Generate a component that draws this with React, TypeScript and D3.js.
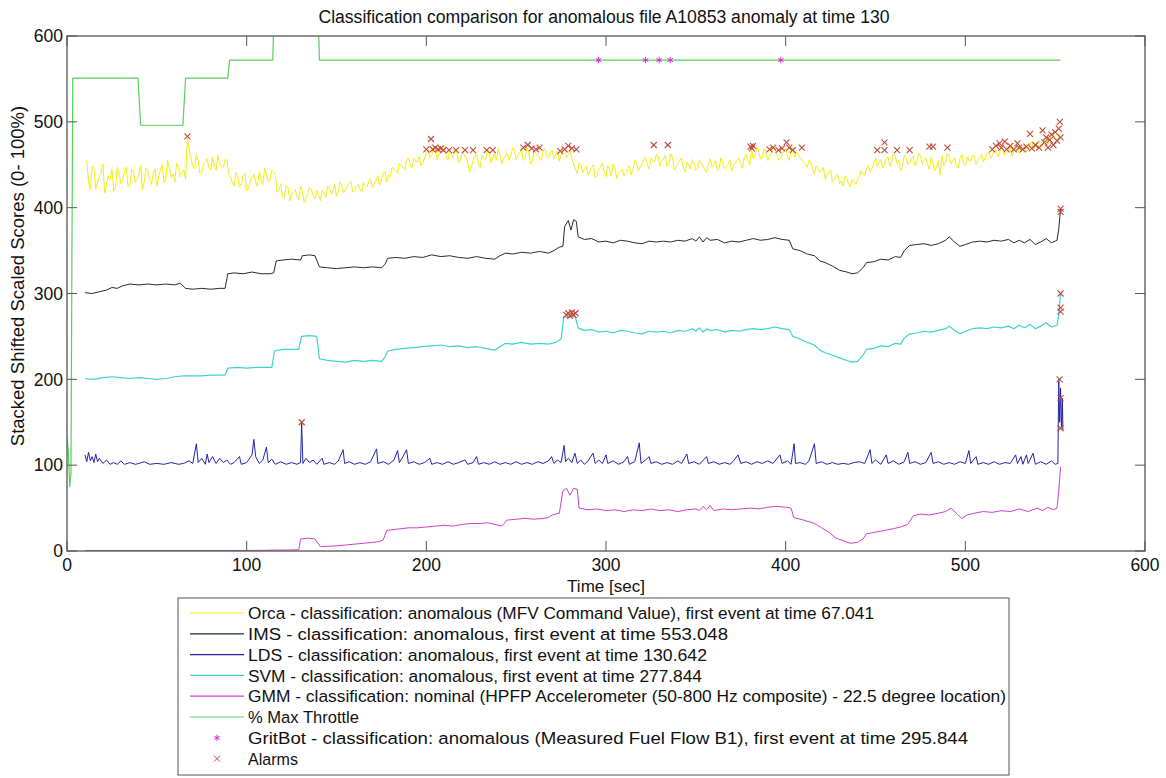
import React from "react";
import * as d3 from "d3";

const W = 1166;
const H = 778;
const frame = { left: 67, right: 1145, top: 36, bottom: 551 };

const xTicks = [0, 100, 200, 300, 400, 500, 600];
const yTicks = [0, 100, 200, 300, 400, 500, 600];

const titleText = "Classification comparison for anomalous file A10853 anomaly at time 130";
const xLabel = "Time [sec]";
const yLabel = "Stacked Shifted Scaled Scores (0- 100%)";

// Orca score at odd seconds, t = 11, 13, ..., 553
const orcaOddSeconds = [
  456, 421, 446, 429, 440, 417, 437, 445, 424, 439,
  431, 447, 426, 441, 434, 449, 430, 443, 427, 445,
  437, 450, 433, 446, 439, 452, 436, 444, 481,
  458, 445, 455, 441, 453, 446, 459, 443, 452, 447, 456,
  436, 425, 438, 428, 440, 422, 435, 430, 442, 427,
  439, 433, 441, 418, 428, 412, 424, 416, 421, 409,
  419, 411, 423, 414, 420, 408, 418, 425, 416, 427,
  419, 426, 421, 428, 418, 425, 422, 429, 424, 433,
  428, 437, 433, 442, 438, 447, 443, 452, 447, 455,
  450, 457, 453, 449, 458, 467, 461, 470, 463, 468,
  460, 467, 458, 464, 456, 462, 453, 447, 459, 452,
  461, 456, 465, 459, 455, 462, 457, 464, 460, 467,
  461, 468, 459, 465, 454, 463, 458, 466, 460, 464,
  457, 466, 461, 468, 462, 457, 445, 452, 441, 448,
  443, 450, 438, 447, 442, 449, 437, 446, 440, 445,
  441, 449, 444, 452, 447, 456, 450, 458, 453, 460,
  454, 461, 452, 458, 449, 455, 447, 453, 445, 451,
  446, 452, 444, 450, 447, 455, 446, 452, 448, 455,
  449, 456, 452, 459, 455, 468, 461, 466, 458, 465,
  460, 468, 462, 457, 466, 460, 467, 459, 462, 456,
  450, 455, 446, 449, 441, 447, 438, 443, 434, 439,
  431, 437, 428, 433, 427, 436, 440, 446, 442, 452,
  448, 456, 451, 459, 453, 460, 455, 448, 458, 452,
  460, 454, 461, 456, 450, 459, 443, 455, 460, 453,
  461, 455, 449, 457, 452, 459, 454, 460, 456, 462,
  458, 465, 461, 468, 463, 470, 464, 471, 466, 473,
  467, 474, 469, 477, 471, 479, 473, 482, 476, 484,
  478, 486,
];

// Orca score at even seconds, t = 12, 14, ..., 552
const orcaEvenSeconds = [
  430, 448, 422, 436, 451, 426, 433, 419, 447, 428,
  442, 424, 445, 429, 438, 421, 446, 433, 440, 425,
  443, 429, 455, 435, 430, 448, 441, 433, 467, 448,
  462, 440, 451, 457, 444, 450, 461, 448, 455, 440,
  429, 441, 424, 436, 420, 431, 439, 425, 433, 446,
  430, 444, 437, 421, 413, 426, 408, 419, 413, 425,
  406, 417, 422, 410, 415, 420, 412, 424, 418, 413,
  430, 417, 424, 431, 420, 427, 418, 426, 431, 423,
  432, 426, 440, 430, 436, 445, 440, 449, 444, 458,
  446, 455, 460, 452, 463, 458, 472, 456, 465, 471,
  455, 462, 468, 452, 466, 458, 441, 455, 463, 447,
  457, 468, 452, 463, 469, 451, 461, 455, 470, 456,
  464, 455, 470, 451, 467, 462, 455, 469, 458, 467,
  462, 454, 470, 458, 466, 451, 440, 449, 446, 438,
  447, 435, 445, 452, 436, 444, 451, 434, 443, 437,
  446, 438, 455, 443, 451, 459, 445, 455, 462, 449,
  457, 448, 463, 444, 452, 458, 441, 449, 456, 443,
  455, 449, 441, 457, 450, 443, 458, 445, 451, 443,
  452, 458, 446, 462, 450, 457, 470, 457, 469, 455,
  463, 471, 455, 461, 469, 455, 470, 465, 458, 453,
  447, 452, 439, 446, 444, 433, 441, 430, 436, 428,
  425, 434, 424, 430, 433, 443, 437, 449, 445, 458,
  452, 446, 457, 448, 463, 451, 443, 461, 450, 457,
  449, 463, 451, 458, 444, 452, 447, 438, 449, 463,
  451, 458, 446, 462, 449, 455, 461, 450, 458, 453,
  463, 457, 466, 459, 472, 461, 467, 460, 469, 463,
  470, 465, 474, 468, 476, 470, 480, 474, 487, 480,
  483,
];

// IMS score as [time, value]
const imsSeries: [number, number][] = [
  [10, 301], [14, 300], [18, 302], [22, 304], [25, 307], [28, 306], [31, 309], [35, 311], [40, 310], [45, 311],
  [50, 310], [55, 311], [60, 310], [63, 312], [66, 306], [70, 305], [75, 306], [80, 305], [85, 306], [88, 306],
  [89.5, 323], [93, 324], [98, 323], [103, 325], [108, 323], [113, 323], [115, 324], [116.5, 338], [120, 339], [125, 340],
  [130, 339], [131, 344], [135, 345], [138, 344], [140.5, 331], [145, 330], [150, 329], [155, 330], [160, 331], [165, 330],
  [170, 331], [175, 330], [177, 334], [178.5, 341], [183, 342], [188, 341], [193, 343], [198, 342], [203, 345], [208, 343],
  [213, 344], [218, 342], [223, 341], [228, 343], [233, 341], [238, 340], [241, 344], [244, 347], [248, 346], [253, 348],
  [258, 347], [263, 349], [268, 347], [271, 350], [274, 354], [276, 355], [277, 378], [279, 385], [280.5, 374], [282, 386],
  [283.5, 384], [284.5, 366], [288, 363], [292, 364], [296, 360], [300, 361], [304, 359], [308, 362], [312, 361], [316, 359],
  [320, 358], [324, 361], [328, 360], [332, 361], [336, 360], [340, 362], [344, 361], [348, 364], [350, 361], [352, 366],
  [354, 360], [356, 365], [358, 362], [362, 363], [366, 359], [370, 361], [374, 360], [378, 362], [382, 364], [386, 362],
  [390, 363], [394, 365], [398, 363], [402, 362], [404, 352], [408, 350], [412, 346], [416, 344], [419, 338], [422, 336],
  [426, 332], [430, 327], [434, 325], [437, 323], [440, 324], [443, 330], [445, 336], [449, 337], [453, 340], [457, 339],
  [461, 343], [464, 342], [466, 350], [469, 356], [473, 357], [477, 358], [481, 356], [485, 358], [489, 362], [491, 366],
  [494, 360], [497, 355], [500, 357], [504, 360], [508, 361], [512, 360], [516, 362], [520, 361], [524, 363], [527, 359],
  [530, 362], [533, 359], [536, 363], [539, 357], [542, 360], [545, 364], [548, 359], [551, 362], [552, 375], [553, 399],
];

// LDS score as [time, value]
const ldsSeries: [number, number][] = [
  [10, 112], [11, 104], [12, 115], [13, 105], [14, 110], [15, 103], [16, 113], [17, 104], [18, 108], [20, 102],
  [22, 106], [24, 101], [26, 103], [28, 101], [30, 105], [32, 101], [35, 103], [38, 101], [40, 102], [43, 104],
  [46, 101], [50, 102], [54, 101], [58, 103], [62, 101], [65, 102], [68, 105], [70, 102], [72, 125], [73, 103],
  [75, 108], [77, 101], [78, 113], [79, 103], [81, 110], [83, 102], [85, 108], [87, 103], [89, 106], [91, 101],
  [93, 103], [96, 110], [97, 101], [100, 103], [103, 112], [104, 130], [105, 110], [107, 102], [109, 106], [111, 121],
  [112, 103], [114, 107], [116, 101], [119, 104], [122, 101], [125, 103], [128, 101], [130, 103], [130.6, 149], [131.3, 102],
  [133, 108], [135, 103], [137, 106], [139, 101], [142, 108], [143, 101], [146, 103], [149, 101], [151, 105], [153.7, 118],
  [154.5, 102], [157, 104], [160, 101], [163, 103], [166, 101], [169, 104], [172.3, 119], [173, 102], [176, 104], [179, 101],
  [182, 106], [184, 117], [185, 103], [187, 110], [189, 118], [190, 102], [193, 104], [196, 101], [199, 103], [202, 108],
  [203, 101], [206, 103], [209, 101], [212, 104], [215, 101], [218, 103], [221.5, 106], [223, 101], [226, 103], [228, 110],
  [229, 101], [232, 103], [235, 101], [238, 104], [241, 101], [244, 103], [247, 101], [250, 104], [253, 101], [256, 103],
  [259, 101], [262, 104], [265, 102], [268, 105], [269.7, 110], [271, 102], [273, 106], [275, 103], [276.7, 123], [277.5, 104],
  [279, 108], [281, 103], [282.7, 114], [284, 102], [286, 106], [288, 101], [290, 105], [292.8, 114], [294, 102], [296, 106],
  [298, 102], [300, 112], [301, 102], [304, 105], [307, 101], [310, 104], [312, 110], [313, 101], [316, 104], [318.5, 126],
  [319.5, 102], [322, 106], [324, 110], [325, 102], [328, 104], [331, 101], [334, 103], [337, 101], [340, 105], [342, 102],
  [345, 113], [346, 102], [349, 104], [352, 101], [356, 110], [357, 102], [360, 104], [363, 101], [366, 103], [369, 101],
  [371, 105], [373.5, 112], [375, 102], [378, 104], [381, 101], [384, 104], [387, 102], [390, 105], [393, 102], [396.8, 112],
  [398, 102], [401, 105], [403, 101], [404.7, 125], [405.5, 102], [408, 103], [411, 101], [413, 105], [416, 125], [417, 102],
  [420, 104], [423, 101], [426, 103], [429, 101], [432, 102], [435, 101], [438, 103], [441, 104], [444, 102], [447, 118],
  [448, 102], [450, 106], [453, 101], [456, 112], [457, 102], [460, 105], [463, 101], [466, 104], [468, 115], [469, 102],
  [472, 104], [475, 101], [478, 103], [481, 115], [482, 102], [485, 104], [488, 101], [491, 103], [494, 101], [497, 104],
  [500, 102], [502, 117], [503, 102], [506, 110], [507, 101], [510, 103], [513, 101], [516, 104], [519, 101], [522, 103],
  [525, 102], [528, 112], [529, 102], [531, 110], [532, 101], [534, 112], [535, 102], [537.7, 114], [539, 101], [542, 104],
  [545, 101], [548, 105], [550, 101], [551.5, 102], [552, 200], [552.5, 150], [553, 190], [553.5, 143], [554, 178], [554.3, 141],
];

// SVM score as [time, value]
const svmSeries: [number, number][] = [
  [10, 201], [15, 200], [20, 202], [25, 203], [30, 202], [35, 201], [40, 202], [45, 201], [50, 200], [55, 201],
  [60, 203], [65, 204], [70, 204], [75, 204], [80, 205], [85, 205], [88, 205], [89.5, 213], [95, 214], [100, 213],
  [105, 214], [110, 214], [114, 214], [115.5, 233], [120, 235], [125, 235], [129, 235], [130.5, 250], [135, 251], [139, 250],
  [140.5, 224], [145, 222], [150, 221], [155, 220], [160, 222], [165, 221], [170, 222], [175, 221], [177, 226], [178.5, 233],
  [183, 235], [188, 236], [193, 237], [198, 238], [203, 239], [208, 240], [213, 238], [218, 239], [223, 237], [228, 238],
  [233, 236], [238, 234], [241, 238], [244, 242], [248, 241], [253, 243], [258, 241], [263, 242], [268, 241], [272, 243],
  [275, 247], [276.5, 273], [279, 272], [281, 275], [283, 272], [284.5, 260], [288, 257], [292, 258], [296, 255], [300, 256],
  [304, 254], [308, 257], [312, 256], [316, 254], [320, 253], [324, 256], [328, 255], [332, 256], [336, 254], [340, 257],
  [344, 256], [348, 259], [350, 256], [352, 260], [354, 255], [356, 259], [358, 257], [362, 258], [366, 255], [370, 257],
  [374, 256], [378, 258], [382, 259], [386, 258], [390, 259], [394, 261], [398, 259], [402, 258], [404, 250], [408, 247],
  [412, 243], [416, 240], [419, 234], [422, 231], [426, 228], [430, 225], [434, 222], [437, 220], [440, 221], [443, 228],
  [445, 235], [449, 236], [453, 239], [457, 238], [461, 242], [464, 241], [466, 248], [469, 253], [473, 254], [477, 256],
  [481, 255], [485, 257], [489, 259], [491, 262], [494, 257], [497, 253], [500, 256], [504, 259], [508, 260], [512, 259],
  [516, 261], [520, 260], [524, 262], [527, 259], [530, 263], [533, 260], [536, 264], [539, 259], [542, 262], [545, 266],
  [548, 261], [551, 263], [552, 275], [553, 300],
];

// GMM score as [time, value]
const gmmSeries: [number, number][] = [
  [10, 0.5], [30, 0.5], [60, 0.5], [90, 0.5], [110, 0.8], [115, 1], [125, 1.2], [129, 1.5], [130, 14], [134, 15],
  [138, 14], [141, 5], [145, 5.5], [150, 6], [155, 7], [160, 8], [165, 9], [170, 10], [174, 11], [176, 13],
  [178, 24], [182, 25], [186, 26], [190, 27], [195, 27], [200, 28], [205, 29], [210, 30], [215, 29], [220, 31],
  [225, 32], [230, 32], [234, 33], [238, 31], [242, 29], [245, 36], [250, 37], [255, 38], [260, 37], [265, 38],
  [268, 39], [270, 42], [274, 44], [276, 70], [278, 73], [280, 65], [282, 73], [284, 72], [285, 50], [290, 48],
  [295, 49], [300, 47], [305, 48], [310, 46], [315, 48], [320, 47], [325, 49], [330, 47], [335, 48], [340, 46],
  [345, 48], [350, 49], [352, 47], [354, 52], [356, 48], [358, 53], [360, 47], [365, 49], [370, 48], [375, 49],
  [380, 50], [385, 49], [390, 51], [395, 52], [400, 51], [403, 50], [404.5, 39], [410, 36], [416, 32], [420, 27],
  [424, 22], [428, 15], [432, 12], [436, 9], [440, 10], [443, 14], [445, 20], [450, 22], [455, 24], [460, 26],
  [464, 28], [468, 31], [471, 41], [475, 43], [480, 42], [485, 44], [489, 46], [492, 50], [495, 44], [498, 38],
  [501, 42], [505, 44], [510, 46], [515, 45], [520, 47], [525, 46], [530, 49], [535, 46], [540, 50], [543, 47],
  [546, 51], [549, 48], [551, 50], [552, 70], [553, 98],
];

// Percent of max throttle (shifted), as [time, value]
const throttleSeries: [number, number][] = [
  [0, 133], [0.8, 115], [1.5, 75], [2.2, 90], [3.2, 551], [39.5, 551], [41, 496], [64.5, 496], [66, 551], [89.5, 551],
  [90.5, 572], [114.5, 572], [115.5, 650], [139.5, 650], [140.5, 572], [553, 572],
];

// GritBot events (time, value)
const gritbotEvents: [number, number][] = [
  [295.844, 572], [322, 572], [329.6, 572], [335.7, 572], [397.3, 572],
];

// Alarm markers (time, value)
const alarmEvents: [number, number][] = [
  [67.041, 483],
  [200, 468], [202.6, 480], [203.5, 468], [205, 470], [206.5, 468], [208, 469], [209.5, 467], [212.6, 467], [216.5, 467],
  [221.5, 467], [226, 467], [233.6, 467], [237, 467], [254, 470], [256.5, 473], [258.7, 469], [261, 468], [263, 470],
  [274.5, 466], [277, 468], [279, 472], [281, 469], [283.5, 468], [326.6, 473], [334.4, 473],
  [380.5, 471], [381.2, 469], [381.8, 472], [391, 468], [393, 470], [396, 467], [398, 469], [400.5, 476], [402, 470],
  [404, 467], [409, 470], [451, 467], [455, 476], [455, 467], [462, 467], [469, 467], [480, 471], [482, 471], [490, 470],
  [515, 468], [517, 472], [519, 475], [520, 470], [522, 477], [523, 468], [525, 472], [527, 468], [529, 475], [530, 470],
  [532, 468], [534, 471], [536, 486], [537, 469], [539, 473], [541, 470], [543, 490], [544, 476], [545, 482], [546, 470],
  [547, 479], [548, 485], [549, 473], [550, 488], [551, 478], [552, 492], [552.6, 500], [553, 482],
  [130.642, 150], [552.5, 200], [553, 178], [553, 143],
  [277.844, 275], [279, 277], [280, 274], [281, 278], [282, 275], [283, 277], [553, 300], [553, 283.5], [553, 279],
  [553.048, 399], [553, 395],
];

const legendLabels = [
  "Orca - classification: anomalous (MFV Command Value), first event at time 67.041",
  "IMS - classification: anomalous, first event at time 553.048",
  "LDS - classification: anomalous, first event at time 130.642",
  "SVM - classification: anomalous, first event at time 277.844",
  "GMM - classification: nominal (HPFP Accelerometer (50-800 Hz composite) - 22.5 degree location)",
  "% Max Throttle",
  "GritBot - classification: anomalous (Measured Fuel Flow B1), first event at time 295.844",
  "Alarms",
];

// rendered width of each legend label, in pixels
const legendLabelWidths = [626, 480, 459, 454, 758, 111, 720, 50];

const colors = {
  orca: "#f2ee10",
  ims: "#2a2a2a",
  lds: "#2424a8",
  svm: "#3cd2d2",
  gmm: "#d040cc",
  throttle: "#5ccf5c",
  gritbot: "#e020e0",
  alarm: "#c24a3c",
};

const FONT = "'Liberation Sans', Arial, Helvetica, sans-serif";

export default function App() {
  const x = d3.scaleLinear().domain([0, 600]).range([frame.left, frame.right]);
  const y = d3.scaleLinear().domain([0, 600]).range([frame.bottom, frame.top]);
  const line = d3
    .line<[number, number]>()
    .x((d) => x(d[0]))
    .y((d) => y(d[1]));

  const orcaSeries: [number, number][] = [
    ...orcaOddSeconds.map((v, i): [number, number] => [11 + 2 * i, v]),
    ...orcaEvenSeconds.map((v, i): [number, number] => [12 + 2 * i, v]),
  ].sort((a, b) => a[0] - b[0]);

  const series = [
    { key: "throttle", data: throttleSeries, color: colors.throttle, w: 1.2 },
    { key: "gmm", data: gmmSeries, color: colors.gmm, w: 1 },
    { key: "svm", data: svmSeries, color: colors.svm, w: 1.2 },
    { key: "ims", data: imsSeries, color: colors.ims, w: 1 },
    { key: "lds", data: ldsSeries, color: colors.lds, w: 1 },
    { key: "orca", data: orcaSeries, color: colors.orca, w: 1 },
  ];

  const asterisk = d3.symbol(d3.symbolAsterisk, 28)() as string;
  const cross = "M-3,-3L3,3M-3,3L3,-3";
  const tickLen = 10;
  const axisColor = "#555";

  const legend = { left: 178, right: 1009, top: 598, bottom: 775, firstRow: 613, rowStep: 20.8 };
  const legendItems = [
    { kind: "line", color: colors.orca },
    { kind: "line", color: colors.ims },
    { kind: "line", color: colors.lds },
    { kind: "line", color: colors.svm },
    { kind: "line", color: colors.gmm },
    { kind: "line", color: colors.throttle },
    { kind: "star", color: colors.gritbot },
    { kind: "cross", color: colors.alarm },
  ];

  return (
    <svg
      width={W}
      height={H}
      style={{ position: "absolute", left: 0, top: 0, background: "#fff" }}
      fontFamily={FONT}
    >
      <rect x={0} y={0} width={W} height={H} fill="#fff" />
      <defs>
        <clipPath id="plot-clip">
          <rect x={frame.left} y={frame.top} width={frame.right - frame.left} height={frame.bottom - frame.top} />
        </clipPath>
      </defs>

      <text x={604} y={23} fontSize={17.6} textAnchor="middle" fill="#111">
        {titleText}
      </text>

      <g clipPath="url(#plot-clip)">
        {series.map((s) => (
          <path key={s.key} d={line(s.data) as string} fill="none" stroke={s.color} strokeWidth={s.w} strokeLinejoin="round" />
        ))}
        {alarmEvents.map((d, i) => (
          <path
            key={"a" + i}
            d={cross}
            transform={`translate(${x(d[0])},${y(d[1])})`}
            stroke={colors.alarm}
            strokeWidth={1.1}
            fill="none"
          />
        ))}
        {gritbotEvents.map((d, i) => (
          <path
            key={"g" + i}
            d={asterisk}
            transform={`translate(${x(d[0])},${y(d[1])})`}
            fill={colors.gritbot}
            stroke={colors.gritbot}
            strokeWidth={1}
          />
        ))}
      </g>

      {/* frame */}
      <rect
        x={frame.left}
        y={frame.top}
        width={frame.right - frame.left}
        height={frame.bottom - frame.top}
        fill="none"
        stroke={axisColor}
        strokeWidth={1.3}
      />

      {/* x ticks on bottom and top */}
      {xTicks.map((t) => (
        <g key={"xt" + t}>
          <line x1={x(t)} x2={x(t)} y1={frame.bottom} y2={frame.bottom - tickLen} stroke={axisColor} />
          <line x1={x(t)} x2={x(t)} y1={frame.top} y2={frame.top + tickLen} stroke={axisColor} />
          <text x={x(t)} y={frame.bottom + 20} fontSize={17.5} textAnchor="middle" fill="#111">
            {t}
          </text>
        </g>
      ))}

      {/* y ticks on left and right */}
      {yTicks.map((t) => (
        <g key={"yt" + t}>
          <line x1={frame.left} x2={frame.left + tickLen} y1={y(t)} y2={y(t)} stroke={axisColor} />
          <line x1={frame.right} x2={frame.right - tickLen} y1={y(t)} y2={y(t)} stroke={axisColor} />
          <text x={frame.left - 4} y={y(t)} dy="0.36em" fontSize={17.5} textAnchor="end" fill="#111">
            {t}
          </text>
        </g>
      ))}

      <text x={606} y={592} fontSize={17} textAnchor="middle" fill="#111">
        {xLabel}
      </text>
      <text transform={`translate(24,276) rotate(-90)`} fontSize={18.5} textAnchor="middle" fill="#111">
        {yLabel}
      </text>

      {/* legend */}
      <rect
        x={legend.left}
        y={legend.top}
        width={legend.right - legend.left}
        height={legend.bottom - legend.top}
        fill="#fff"
        stroke={axisColor}
        strokeWidth={1}
      />
      {legendItems.map((item, i) => {
        const cy = legend.firstRow + i * legend.rowStep;
        return (
          <g key={"lg" + i}>
            {item.kind === "line" && (
              <line x1={190} x2={244} y1={cy} y2={cy} stroke={item.color} strokeWidth={1.2} />
            )}
            {item.kind === "star" && (
              <path d={asterisk} transform={`translate(217,${cy})`} fill={item.color} stroke={item.color} />
            )}
            {item.kind === "cross" && (
              <path d={cross} transform={`translate(217,${cy})`} stroke={item.color} fill="none" strokeWidth={1} />
            )}
            <text
              x={248}
              y={cy}
              dy="0.36em"
              fontSize={17.2}
              fill="#111"
              textLength={legendLabelWidths[i]}
              lengthAdjust="spacingAndGlyphs"
            >
              {legendLabels[i]}
            </text>
          </g>
        );
      })}
    </svg>
  );
}
